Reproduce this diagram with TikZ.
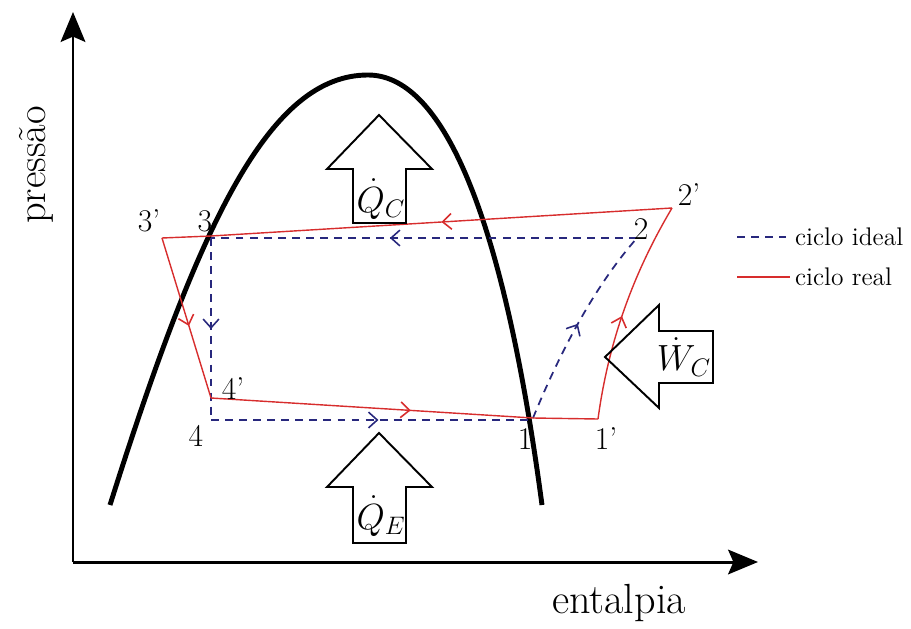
\documentclass[tikz,border=0pt]{standalone}
\usetikzlibrary{arrows.meta,decorations.markings}
\definecolor{idealblue}{RGB}{40,40,125}
\definecolor{realred}{RGB}{215,45,45}
\begin{document}
\begin{tikzpicture}[x=0.02cm,y=-0.02cm,
  axis/.style={line width=1.7pt,-{Stealth[length=17pt,width=14pt,inset=3pt]}},
  dome/.style={line width=2.8pt},
  ideal/.style={idealblue,line width=1pt,dash pattern=on 4.5pt off 3.5pt},
  real/.style={realred,line width=0.8pt,line join=miter},
  flow/.style={postaction={decorate,decoration={markings,
    mark=at position #1 with {\arrow[line width=0.9pt]{Straight Barb[length=5pt,width=9pt]}}}}},
  block/.style={line width=1.1pt,line join=miter},
  ptlabel/.style={font=\fontsize{18}{21}\selectfont,inner sep=1pt},
  heatlabel/.style={font=\fontsize{22}{26}\selectfont,inner sep=0pt}]
\useasboundingbox (0,0) rectangle (911,628);
% axes
\coordinate (orig) at (73,562);
\coordinate (ytop) at (73,12);
\coordinate (xend) at (758,562);
\draw[axis] (orig) -- (ytop);
\draw[axis] (orig) -- (xend);
\node[rotate=90,font=\fontsize{23}{28}\selectfont] (ylab) at (36,165) {pressão};
\node[font=\fontsize{24}{29}\selectfont] (xlab) at (619,603) {entalpia};
% saturation dome
\coordinate (dl) at (110,505);
\coordinate (dtop) at (368,75);
\coordinate (dr) at (542,505);
\draw[dome] (dl) .. controls (200,220) and (270,75) .. (dtop)
  .. controls (440,75) and (502,205) .. (dr);
% cycle points
\coordinate (p1) at (533,418);
\coordinate (p1r) at (598,419);
\coordinate (p2) at (637,238);
\coordinate (p2r) at (672,208);
\coordinate (p3) at (211,238);
\coordinate (p3k) at (211,236);
\coordinate (p3r) at (162,238);
\coordinate (p4) at (211,420);
\coordinate (p4r) at (211,398);
\coordinate (p1i) at (533,420);
% ideal cycle
\draw[ideal,flow=0.5] (p1) .. controls (565,340) and (600,280) .. (p2);
\draw[ideal,flow=0.58] (p2) -- (p3);
\draw[ideal,flow=0.5] (p3) -- (p4);
\draw[ideal,flow=0.52] (p4) -- (p1i);
% real cycle
\draw[real,flow=0.47] (p1r) .. controls (610,330) and (640,262) .. (p2r);
\draw[real,flow=0.5] (p2r) -- (p3k);
\draw[real] (p3k) -- (p3r);
\draw[real,flow=0.55] (p3r) -- (p4r);
\draw[real,flow=0.62] (p4r) -- (p1);
\draw[real] (p1) -- (p1r);
% point labels
\node[ptlabel] (l1) at (525,439) {1};
\node[ptlabel] (l1r) at (606,439) {1’};
\node[ptlabel] (l2) at (641,229) {2};
\node[ptlabel] (l2r) at (689,195) {2’};
\node[ptlabel] (l3) at (205,221) {3};
\node[ptlabel] (l3r) at (149,221) {3’};
\node[ptlabel] (l4) at (196,436) {4};
\node[ptlabel] (l4r) at (233,389) {4’};
% heat and work arrows
\draw[block] (379,115) -- (432,169) -- (406,169) -- (406,223) -- (353,223)
  -- (353,169) -- (327,169) -- cycle;
\node[heatlabel] (qc) at (381,199) {$\dot{Q}_C$};
\draw[block] (379,433) -- (432,487) -- (406,487) -- (406,543) -- (353,543)
  -- (353,487) -- (327,487) -- cycle;
\node[heatlabel] (qe) at (381,516) {$\dot{Q}_E$};
\draw[block] (605,357) -- (659,305) -- (659,331) -- (713,331) -- (713,383)
  -- (659,383) -- (659,408) -- cycle;
\node[heatlabel] (wc) at (684,357) {$\dot{W}_C$};
% legend
\coordinate (li0) at (737,237);
\coordinate (li1) at (786,237);
\coordinate (lr0) at (737,277);
\coordinate (lr1) at (790,277);
\draw[ideal] (li0) -- (li1);
\draw[real] (lr0) -- (lr1);
\node[anchor=west,font=\fontsize{14.5}{18}\selectfont,inner sep=1pt] (legi) at (793,237) {ciclo ideal};
\node[anchor=west,font=\fontsize{14.5}{18}\selectfont,inner sep=1pt] (legr) at (793,277) {ciclo real};
\end{tikzpicture}
\end{document}
